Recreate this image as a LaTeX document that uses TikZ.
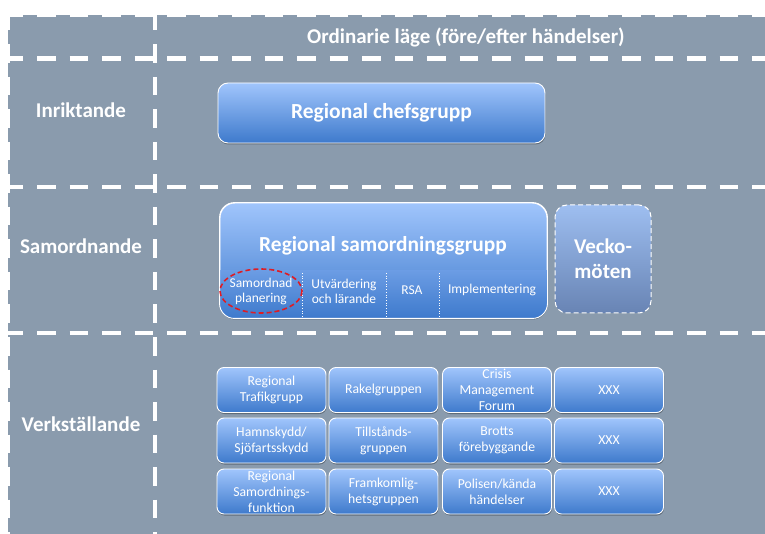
\documentclass[tikz,border=0pt]{standalone}
\usepackage{fontspec}
\setmainfont{Carlito}
\usetikzlibrary{shadows}

\definecolor{panelgray}{RGB}{138,155,173}
\definecolor{boxtop}{RGB}{160,197,252}
\definecolor{boxbottom}{RGB}{62,122,204}
\definecolor{striptop}{RGB}{107,156,228}
\definecolor{weektop}{RGB}{158,190,240}
\definecolor{weekbottom}{RGB}{104,132,180}
\definecolor{markred}{RGB}{222,28,36}

\begin{document}
\begin{tikzpicture}[x=1pt, y=-1pt,
  divider/.style={white, line width=4.5pt, dash pattern=on 18.5pt off 14pt},
  headtext/.style={text=white, font=\fontsize{21}{24}\selectfont\bfseries},
  bluebox/.style={draw=white, line width=0.9pt, top color=boxtop, bottom color=boxbottom,
    drop shadow={shadow xshift=0.5pt, shadow yshift=-1.5pt, fill=black, opacity=0.3}},
  smallbox/.style={bluebox, rounded corners=7pt, minimum width=109pt, minimum height=45pt,
    inner sep=0pt, align=center, text=white, font=\fontsize{13.7}{16}\selectfont},
  subtext/.style={text=white, align=center, font=\fontsize{13.5}{15}\selectfont},
  subline/.style={white, line width=0.7pt, dotted}
]
\useasboundingbox (0,0) rectangle (765,534);

% panel
\fill[panelgray] (8,15) rectangle (770,540);
\draw[divider, dash phase=3.5pt] (8,15) -- (770,15);
\draw[divider, dash phase=3pt] (8,15) -- (8,540);

% rows and column
\draw[divider, dash phase=3.5pt] (8,58.5) -- (770,58.5);
\draw[divider, dash phase=3.5pt] (8,187) -- (770,187);
\draw[divider, dash phase=3.5pt] (8,333) -- (770,333);
\draw[divider, dash phase=3pt] (155,15) -- (155,540);

% headings
\node[headtext] (ordinary) at (466,37) {Ordinarie läge (före/efter händelser)};
\node[headtext] (directing) at (81,110) {Inriktande};
\node[headtext] (coordinating) at (81,246) {Samordnande};
\node[headtext] (executing) at (81,424) {Verkställande};

% inriktande
\node[bluebox, rounded corners=10pt, minimum width=327pt, minimum height=60pt,
  text=white, font=\fontsize{21.5}{24}\selectfont\bfseries] (chefs) at (381.5,113) {Regional chefsgrupp};

% samordnande
\node[bluebox, rounded corners=15pt, minimum width=327pt, minimum height=115pt] (rsg) at (383.5,260.5) {};
\begin{scope}
  \clip[rounded corners=15pt] (rsg.south west) rectangle (rsg.north east);
  \shade[top color=striptop, bottom color=boxbottom] (220,271) rectangle (547,318);
\end{scope}
\draw[white, line width=0.9pt, rounded corners=15pt] (rsg.south west) rectangle (rsg.north east);
\node[text=white, font=\fontsize{21.4}{24}\selectfont\bfseries] (rsgtitle) at (383,246) {Regional samordningsgrupp};
\draw[subline] (302,273) -- (302,318);
\draw[subline] (386,273) -- (386,318);
\draw[subline] (439,273) -- (439,318);
\node[subtext] (planning) at (261,291) {Samordnad\\planering};
\node[subtext] (evaluation) at (344,291) {Utvärdering\\och lärande};
\node[subtext] (rsa) at (412,290) {RSA};
\node[subtext] (implement) at (492,290) {Implementering};
\draw[markred, line width=1.6pt, dash pattern=on 5pt off 3pt] (planning.center) ellipse (41 and 22);

\node[draw=white, line width=1pt, dash pattern=on 5pt off 3pt, rounded corners=12pt,
  top color=weektop, bottom color=weekbottom, minimum width=96pt, minimum height=108pt,
  align=center, text=white, font=\fontsize{21}{25}\selectfont\bfseries] (weekly) at (603,259) {Vecko-\\möten};

% verkstallande
\node[smallbox] (traffic) at (271.5,390) {Regional\\Trafikgrupp};
\node[smallbox] (rakel) at (383.5,390) {Rakelgruppen};
\node[smallbox] (crisis) at (497,390) {Crisis\\Management\\Forum};
\node[smallbox] (xxxa) at (609,390) {XXX};
\node[smallbox] (harbour) at (271.5,440.5) {Hamnskydd/\\Sjöfartsskydd};
\node[smallbox] (permits) at (383.5,440.5) {Tillstånds-\\gruppen};
\node[smallbox] (crime) at (497,440.5) {Brotts\\förebyggande};
\node[smallbox] (xxxb) at (609,440.5) {XXX};
\node[smallbox] (regfunc) at (271.5,491.5) {Regional\\Samordnings-\\funktion};
\node[smallbox] (passable) at (383.5,491.5) {Framkomlig-\\hetsgruppen};
\node[smallbox] (police) at (497,491.5) {Polisen/kända\\händelser};
\node[smallbox] (xxxc) at (609,491.5) {XXX};
\end{tikzpicture}
\end{document}
